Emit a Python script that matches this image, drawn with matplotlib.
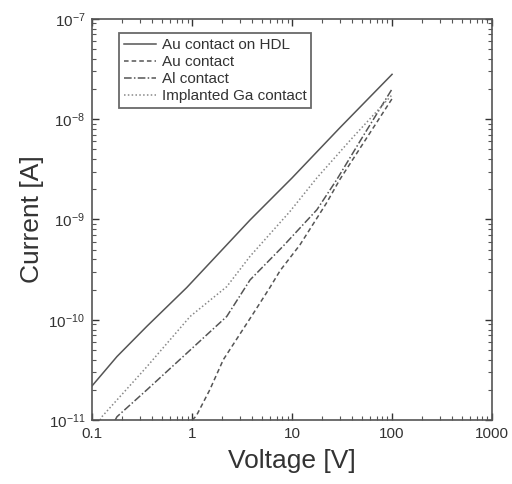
import matplotlib
matplotlib.use("Agg")
import matplotlib.pyplot as plt
from matplotlib.ticker import FixedLocator, FixedFormatter, LogLocator, NullFormatter

plt.rcParams['font.family'] = ['Liberation Sans', 'DejaVu Sans']
plt.rcParams['mathtext.default'] = 'regular'

# values (V, A)
v_hdl = [0.1, 0.177, 0.352, 0.885, 3.8, 10, 30, 100]
i_hdl = [2.2e-11, 4.3e-11, 8.6e-11, 2.1e-10, 9.9e-10, 2.6e-9, 8.2e-9, 2.8e-8]

v_au = [1.0, 1.1, 1.5, 2.05, 4.1, 6.0, 7.6, 12, 22, 30, 50, 100]
i_au = [1.0e-11, 1.1e-11, 2.0e-11, 4.0e-11, 1.16e-10, 2.1e-10, 3.1e-10, 5.6e-10, 1.45e-9, 2.5e-9, 5.5e-9, 1.6e-8]

v_al = [0.17, 0.177, 0.352, 0.885, 2.22, 3.8, 8.1, 17.7, 28, 50, 100]
i_al = [1.0e-11, 1.08e-11, 2.0e-11, 4.65e-11, 1.08e-10, 2.5e-10, 5.4e-10, 1.25e-9, 2.5e-9, 6.5e-9, 2.0e-8]

v_ga = [0.12, 0.125, 0.352, 0.955, 2.22, 3.8, 9.5, 17.7, 40, 100]
i_ga = [1.0e-11, 1.08e-11, 3.4e-11, 1.08e-10, 2.14e-10, 4.3e-10, 1.2e-9, 2.6e-9, 6.5e-9, 1.75e-8]

labels = ['Au contact on HDL', 'Au contact', 'Al contact', 'Implanted Ga contact']
x_ticks = [0.1, 1, 10, 100, 1000]
x_ticklabels = ['0.1', '1', '10', '100', '1000']
y_ticks = [1e-11, 1e-10, 1e-9, 1e-8, 1e-7]
y_ticklabels = ['$10^{-11}$', '$10^{-10}$', '$10^{-9}$', '$10^{-8}$', '$10^{-7}$']

col = '#555555'

fig = plt.figure(figsize=(5.12, 4.84), dpi=100)
ax = fig.add_axes([0.18, 0.132, 0.781, 0.829])

ax.plot(v_hdl, i_hdl, color=col, lw=1.1, linestyle='-', label=labels[0])
ax.plot(v_au, i_au, color=col, lw=1.1, linestyle=(0, (3, 2)), label=labels[1])
ax.plot(v_al, i_al, color=col, lw=1.1, linestyle=(0, (5, 1.5, 1, 1.5)), label=labels[2])
ax.plot(v_ga, i_ga, color='#888888', lw=1.1, linestyle=(0, (1, 1.5)), label=labels[3])

ax.set_xscale('log')
ax.set_yscale('log')
ax.set_xlim(0.1, 1000)
ax.set_ylim(1e-11, 1e-7)

ax.xaxis.set_major_locator(FixedLocator(x_ticks))
ax.xaxis.set_major_formatter(FixedFormatter(x_ticklabels))
ax.yaxis.set_major_locator(FixedLocator(y_ticks))
ax.yaxis.set_major_formatter(FixedFormatter(y_ticklabels))
ax.xaxis.set_minor_locator(LogLocator(base=10, subs=range(2, 10), numticks=20))
ax.yaxis.set_minor_locator(LogLocator(base=10, subs=range(2, 10), numticks=20))
ax.xaxis.set_minor_formatter(NullFormatter())
ax.yaxis.set_minor_formatter(NullFormatter())

ax.tick_params(which='both', direction='in', top=True, right=True, color=col)
ax.tick_params(which='major', length=5, width=1, labelsize=11, colors='#333333', pad=5)
ax.tick_params(which='minor', length=3, width=0.8)
for s in ax.spines.values():
    s.set_color(col)
    s.set_linewidth(1.2)

ax.set_xlabel('Voltage [V]', fontsize=19, color='#333333', labelpad=6)
ax.set_ylabel('Current [A]', fontsize=19, color='#333333', labelpad=3)

leg = ax.legend(loc='upper left', bbox_to_anchor=(0.0675, 0.964), fontsize=11, frameon=True,
                fancybox=False, handlelength=2.1, borderpad=0.3, labelspacing=0.2,
                handletextpad=0.4, borderaxespad=0)
leg.get_frame().set_edgecolor('#444444')
leg.get_frame().set_linewidth(1.3)
for t in leg.get_texts():
    t.set_color('#333333')

fig.savefig('out.png', dpi=100)
